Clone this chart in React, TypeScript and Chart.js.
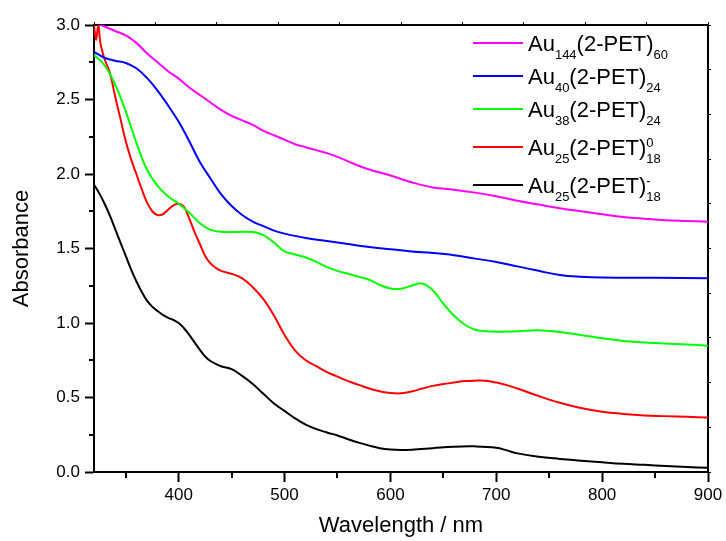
import React, { useEffect, useRef } from "react";
import { Chart, registerables } from "chart.js";

Chart.register(...registerables);

const FONT = "'Liberation Sans', Arial, Helvetica, sans-serif";

// Tick values
const xMajorTicks = [400, 500, 600, 700, 800, 900];
const xMinorTicks = [350, 450, 550, 650, 750, 850];
const yMajorTicks = [0, 0.5, 1.0, 1.5, 2.0, 2.5, 3.0];
const yMinorTicks = [0.25, 0.75, 1.25, 1.75, 2.25, 2.75];
const edgeTicks = [0, 1, 2, 3, 4, 5, 6, 7, 8, 9, 10];

// Au144(2-PET)60
const au144Wl = [320, 330, 340, 350, 360, 370, 380, 390, 400, 410, 420, 430, 440, 450, 460, 470, 480, 490, 500, 510, 520, 530, 540, 550, 560, 570, 580, 590, 600, 620, 640, 660, 680, 700, 720, 740, 760, 780, 800, 820, 840, 860, 880, 900];
const au144Abs = [3.02, 2.99, 2.96, 2.93, 2.88, 2.81, 2.75, 2.69, 2.64, 2.58, 2.53, 2.48, 2.43, 2.39, 2.36, 2.33, 2.29, 2.26, 2.23, 2.2, 2.18, 2.16, 2.14, 2.115, 2.085, 2.055, 2.03, 2.01, 1.99, 1.945, 1.91, 1.895, 1.875, 1.85, 1.82, 1.795, 1.77, 1.75, 1.73, 1.712, 1.7, 1.69, 1.685, 1.68];

// Au40(2-PET)24
const au40Wl = [320, 330, 340, 350, 360, 370, 380, 390, 400, 410, 420, 430, 440, 450, 460, 470, 480, 490, 500, 520, 540, 560, 580, 600, 620, 640, 660, 680, 700, 720, 740, 760, 780, 800, 850, 900];
const au40Abs = [2.82, 2.78, 2.76, 2.745, 2.71, 2.645, 2.56, 2.46, 2.35, 2.22, 2.08, 1.97, 1.865, 1.785, 1.725, 1.68, 1.65, 1.62, 1.6, 1.57, 1.55, 1.53, 1.51, 1.495, 1.48, 1.47, 1.455, 1.432, 1.41, 1.38, 1.35, 1.322, 1.31, 1.305, 1.303, 1.3];

// Au38(2-PET)24
const au38Wl = [320, 330, 340, 350, 360, 370, 380, 390, 400, 410, 420, 430, 440, 450, 460, 470, 480, 490, 500, 510, 520, 530, 540, 550, 560, 570, 580, 590, 600, 610, 620, 630, 640, 650, 660, 670, 680, 690, 700, 720, 740, 760, 780, 800, 820, 850, 880, 900];
const au38Abs = [2.8, 2.73, 2.6, 2.42, 2.21, 2.03, 1.92, 1.85, 1.8, 1.74, 1.67, 1.625, 1.612, 1.61, 1.612, 1.61, 1.59, 1.54, 1.48, 1.46, 1.44, 1.41, 1.375, 1.35, 1.33, 1.31, 1.29, 1.255, 1.232, 1.23, 1.25, 1.265, 1.22, 1.13, 1.05, 0.99, 0.955, 0.945, 0.942, 0.945, 0.952, 0.94, 0.92, 0.897, 0.88, 0.865, 0.855, 0.848];

// Au25(2-PET)18 neutral
const au25nWl = [320, 322, 324, 326, 328, 330, 335, 340, 345, 350, 355, 360, 365, 370, 375, 380, 385, 390, 395, 400, 405, 410, 415, 420, 425, 430, 435, 440, 450, 460, 470, 480, 490, 500, 510, 520, 530, 540, 550, 560, 570, 580, 590, 600, 610, 620, 630, 640, 650, 660, 670, 680, 690, 700, 710, 720, 740, 760, 780, 800, 820, 840, 860, 880, 900];
const au25nAbs = [3.0, 2.9, 3.0, 2.88, 2.82, 2.77, 2.68, 2.52, 2.37, 2.22, 2.1, 2.0, 1.9, 1.81, 1.75, 1.725, 1.73, 1.76, 1.79, 1.8, 1.78, 1.7, 1.61, 1.53, 1.45, 1.4, 1.37, 1.35, 1.33, 1.3, 1.24, 1.16, 1.05, 0.92, 0.815, 0.75, 0.71, 0.67, 0.64, 0.61, 0.585, 0.56, 0.542, 0.53, 0.528, 0.54, 0.56, 0.578, 0.59, 0.6, 0.61, 0.613, 0.612, 0.6, 0.583, 0.56, 0.51, 0.465, 0.43, 0.405, 0.39, 0.38, 0.375, 0.37, 0.365];

// Au25(2-PET)18 anion
const au25aWl = [320, 325, 330, 335, 340, 345, 350, 355, 360, 365, 370, 375, 380, 385, 390, 395, 400, 405, 410, 415, 420, 425, 430, 440, 450, 460, 470, 480, 490, 500, 510, 520, 530, 540, 550, 560, 570, 580, 590, 600, 610, 620, 640, 660, 680, 700, 710, 720, 740, 760, 780, 800, 820, 840, 860, 880, 900];
const au25aAbs = [1.93, 1.87, 1.8, 1.72, 1.63, 1.54, 1.45, 1.36, 1.28, 1.21, 1.15, 1.11, 1.08, 1.055, 1.035, 1.02, 1.0, 0.965, 0.92, 0.87, 0.82, 0.775, 0.745, 0.71, 0.69, 0.645, 0.59, 0.525, 0.46, 0.41, 0.36, 0.318, 0.288, 0.265, 0.245, 0.22, 0.197, 0.177, 0.16, 0.151, 0.148, 0.15, 0.16, 0.17, 0.172, 0.163, 0.145, 0.125, 0.102, 0.088, 0.076, 0.065, 0.055, 0.048, 0.04, 0.034, 0.028];

// Legend labels (main text, subscripts, superscripts)
type Part = { t?: string; sub?: string; sup?: string };
const legend144: Part[] = [{ t: "Au" }, { sub: "144" }, { t: "(2-PET)" }, { sub: "60" }];
const legend40: Part[] = [{ t: "Au" }, { sub: "40" }, { t: "(2-PET)" }, { sub: "24" }];
const legend38: Part[] = [{ t: "Au" }, { sub: "38" }, { t: "(2-PET)" }, { sub: "24" }];
const legend25n: Part[] = [{ t: "Au" }, { sub: "25" }, { t: "(2-PET)" }, { sup: "0", sub: "18" }];
const legend25a: Part[] = [{ t: "Au" }, { sub: "25" }, { t: "(2-PET)" }, { sup: "-", sub: "18" }];

const seriesColors = ["#FF00FF", "#0000FF", "#00FF00", "#FF0000", "#000000"];

const toPoints = (wl: number[], a: number[]) => wl.map((x, i) => ({ x, y: a[i] }));

export default function App() {
  const ref = useRef<HTMLCanvasElement | null>(null);

  useEffect(() => {
    if (!ref.current) return;

    const legendRows = [legend144, legend40, legend38, legend25n, legend25a];
    const legendBaselines = [51, 84, 117, 155, 193];

    const extrasPlugin = {
      id: "extras",
      afterDraw(chart: any) {
        const ctx = chart.ctx;
        const xs = chart.scales.x;
        const ys = chart.scales.y;
        const area = chart.chartArea;
        ctx.save();
        // minor ticks
        ctx.strokeStyle = "#000";
        ctx.lineWidth = 2;
        ctx.beginPath();
        xMinorTicks.forEach((v) => {
          const px = Math.round(xs.getPixelForValue(v));
          ctx.moveTo(px, area.bottom);
          ctx.lineTo(px, area.bottom + 6);
        });
        yMinorTicks.forEach((v) => {
          const py = Math.round(ys.getPixelForValue(v));
          ctx.moveTo(area.left, py);
          ctx.lineTo(area.left - 5, py);
        });
        ctx.stroke();

        // legend
        ctx.textBaseline = "alphabetic";
        ctx.textAlign = "left";
        legendRows.forEach((parts, i) => {
          const base = legendBaselines[i];
          const lineY = base - 8;
          ctx.strokeStyle = chart.data.datasets[i].borderColor;
          ctx.lineWidth = 2;
          ctx.beginPath();
          ctx.moveTo(473, lineY);
          ctx.lineTo(523, lineY);
          ctx.stroke();
          ctx.fillStyle = "#000";
          let x = 528;
          parts.forEach((p) => {
            if (p.t) {
              ctx.font = `22px ${FONT}`;
              ctx.fillText(p.t, x, base);
              x += ctx.measureText(p.t).width;
            } else {
              ctx.font = `13px ${FONT}`;
              let w = 0;
              if (p.sub) {
                ctx.fillText(p.sub, x, base + 8);
                w = Math.max(w, ctx.measureText(p.sub).width);
              }
              if (p.sup) {
                ctx.fillText(p.sup, x, base - 8);
                w = Math.max(w, ctx.measureText(p.sup).width);
              }
              x += w;
            }
          });
        });
        ctx.restore();
      },
    };

    const mk = (wl: number[], a: number[], i: number) => ({
      data: toPoints(wl, a),
      borderColor: seriesColors[i],
      backgroundColor: seriesColors[i],
      borderWidth: 2,
      pointRadius: 0,
      tension: 0.4,
      fill: false,
    });

    const chart = new Chart(ref.current, {
      type: "line",
      data: {
        datasets: [
          mk(au144Wl, au144Abs, 0),
          mk(au40Wl, au40Abs, 1),
          mk(au38Wl, au38Abs, 2),
          mk(au25nWl, au25nAbs, 3),
          mk(au25aWl, au25aAbs, 4),
        ],
      },
      options: {
        responsive: false,
        animation: false,
        events: [],
        layout: { padding: 0 },
        plugins: { legend: { display: false }, tooltip: { enabled: false } },
        scales: {
          x: {
            type: "linear",
            position: "bottom",
            min: 320,
            max: 900,
            afterBuildTicks: (s: any) => {
              s.ticks = xMajorTicks.map((v) => ({ value: v }));
            },
            afterFit: (s: any) => {
              s.height = 69;
            },
            grid: { drawOnChartArea: false, tickLength: 10, tickWidth: 2, tickColor: "#000" },
            border: { color: "#000", width: 2 },
            ticks: { color: "#000", font: { family: FONT, size: 17 }, padding: 3, maxRotation: 0 },
            title: {
              display: true,
              text: "Wavelength / nm",
              color: "#000",
              font: { family: FONT, size: 22 },
              padding: { top: 0, bottom: 2 },
            },
          },
          x2: {
            type: "linear",
            position: "top",
            min: 0,
            max: 10,
            afterBuildTicks: (s: any) => {
              s.ticks = edgeTicks.map((v) => ({ value: v }));
            },
            afterFit: (s: any) => {
              s.height = 25;
            },
            grid: { drawOnChartArea: false, tickLength: 3, tickWidth: 1, tickColor: "#000" },
            border: { color: "#000", width: 2 },
            ticks: { display: false },
          },
          y: {
            type: "linear",
            position: "left",
            min: 0,
            max: 3,
            afterBuildTicks: (s: any) => {
              s.ticks = yMajorTicks.map((v) => ({ value: v }));
            },
            afterFit: (s: any) => {
              s.width = 94;
            },
            grid: { drawOnChartArea: false, tickLength: 9, tickWidth: 2, tickColor: "#000" },
            border: { color: "#000", width: 2 },
            ticks: {
              color: "#000",
              font: { family: FONT, size: 17 },
              padding: 5,
              callback: (v: any) => Number(v).toFixed(1),
            },
            title: {
              display: true,
              text: "Absorbance",
              color: "#000",
              font: { family: FONT, size: 22 },
              padding: { top: 9, bottom: 0 },
            },
          },
          y2: {
            type: "linear",
            position: "right",
            min: 0,
            max: 10,
            afterBuildTicks: (s: any) => {
              s.ticks = edgeTicks.map((v) => ({ value: v }));
            },
            afterFit: (s: any) => {
              s.width = 18;
            },
            grid: { drawOnChartArea: false, tickLength: 3, tickWidth: 1, tickColor: "#000" },
            border: { color: "#000", width: 2 },
            ticks: { display: false },
          },
        },
      },
      plugins: [extrasPlugin],
    } as any);

    return () => chart.destroy();
  }, []);

  return (
    <div style={{ position: "absolute", left: 0, top: 0, width: 726, height: 541, background: "#fff" }}>
      <canvas ref={ref} width={726} height={541} style={{ display: "block" }} />
    </div>
  );
}
